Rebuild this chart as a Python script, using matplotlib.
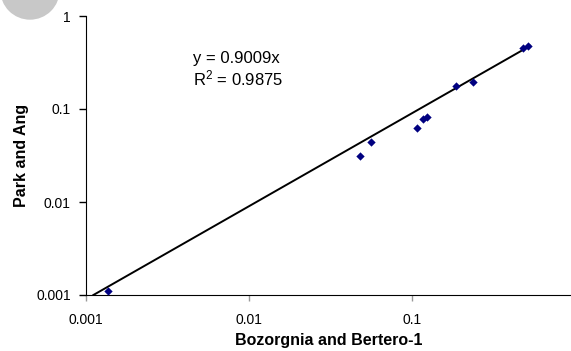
import numpy as np
import matplotlib.pyplot as plt
from matplotlib.patches import Circle

plt.rcParams['font.family'] = ['Liberation Sans', 'DejaVu Sans']

# data
bozorgnia = [0.00137, 0.048, 0.056, 0.107, 0.117, 0.124, 0.185, 0.237, 0.482, 0.513]
park_ang = [0.0011, 0.031, 0.0445, 0.062, 0.0775, 0.082, 0.178, 0.197, 0.456, 0.475]
slope = 0.9009
r2 = 0.9875

fig = plt.figure(figsize=(5.71, 3.51), dpi=100)
ax = fig.add_axes([86 / 571, 1 - 295 / 351, 485 / 571, 279 / 351])

ax.scatter(bozorgnia, park_ang, marker='D', s=18, color='#000080', zorder=3, linewidths=0)
xl = np.array([0.001 / slope, 0.53])
ax.plot(xl, slope * xl, color='black', lw=1.4, zorder=2)

ax.set_xscale('log')
ax.set_yscale('log')
ax.set_xlim(0.001, 10 ** (-3 + 485 / 163))
ax.set_ylim(0.001, 1)
ax.set_xticks([0.001, 0.01, 0.1])
ax.set_xticklabels(['0.001', '0.01', '0.1'])
ax.set_yticks([0.001, 0.01, 0.1, 1])
ax.set_yticklabels(['0.001', '0.01', '0.1', '1'])
ax.minorticks_off()
ax.tick_params(axis='y', direction='out', length=5, width=1, labelsize=10, pad=6)
ax.tick_params(axis='x', direction='out', length=4, width=1, color='#999999', labelsize=10, pad=9)
ax.spines['top'].set_visible(False)
ax.spines['right'].set_visible(False)
ax.spines['left'].set_color('black')
ax.spines['bottom'].set_color('black')

ax.set_xlabel('Bozorgnia and Bertero-1', fontsize=11.5, fontweight='bold', labelpad=4)
ax.set_ylabel('Park and Ang', fontsize=11.5, fontweight='bold', labelpad=5)

fig.text(193 / 571, 1 - 58 / 351, 'y = 0.9009x', fontsize=12, va='center')
fig.text(193 / 571, 1 - 78 / 351, '$\\mathregular{R^2}$ = %.4f' % r2, fontsize=12, va='center')

circ = Circle((30, 351 + 10), 29, transform=None, color='#c8c8c8', zorder=0)
fig.patches.append(circ)

fig.savefig('out.png', dpi=100)
